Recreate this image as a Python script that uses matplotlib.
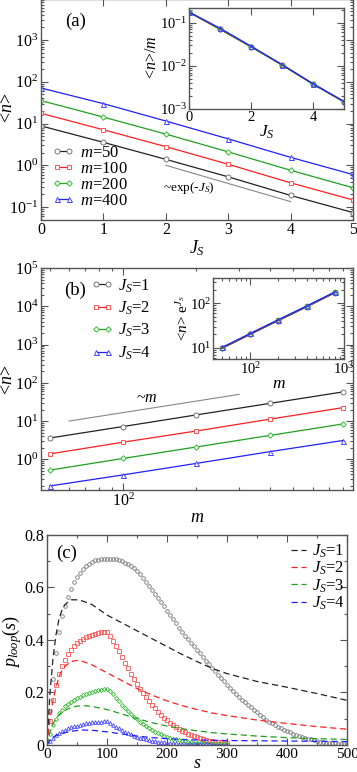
import numpy as np
import matplotlib
matplotlib.use("Agg")
import matplotlib.pyplot as plt
from matplotlib.ticker import LogLocator, NullFormatter, MultipleLocator

plt.rcParams['font.family'] = 'Liberation Serif'
plt.rcParams['mathtext.fontset'] = 'custom'
plt.rcParams['mathtext.rm'] = 'Liberation Serif'
plt.rcParams['mathtext.it'] = 'Liberation Serif:italic'
plt.rcParams['font.size'] = 11.5
plt.rcParams['axes.unicode_minus'] = False

# ---- panel (a): <n> vs J_S for several m
Js = [0, 1, 2, 3, 4, 5]
m_vals = [50, 100, 200, 400]
n_m50 = [8.8, 3.55, 1.39, 0.53, 0.19, 0.074]
n_m100 = [17.6, 7.1, 2.8, 1.06, 0.38, 0.148]
n_m200 = [35.5, 14.3, 5.6, 2.1, 0.76, 0.29]
n_m400 = [71, 30, 11.5, 4.3, 1.55, 0.6]
guide_a_x = [2, 4]
guide_a_y = [1.0, 0.135]

# ---- panel (b): <n> vs m for several J_S
ms = [50, 100, 200, 400, 800]
n_J1 = [3.6, 7.2, 14.5, 29, 58]
n_J2 = [1.38, 2.8, 5.5, 11.2, 22.5]
n_J3 = [0.52, 1.05, 2.1, 4.2, 8.4]
n_J4 = [0.2, 0.39, 0.78, 1.58, 3.1]
# inset (b): <n> e^J_S
ins_J1 = [9.7, 20.0, 41, 83, 172]
ins_J2 = [9.9, 20.4, 42, 85, 176]
ins_J3 = [10.0, 20.7, 42.5, 86, 178]
ins_J4 = [10.2, 21.0, 43, 87, 180]
guide_b_x = [60, 300]
guide_b_y = [10, 50]

# ---- panel (c): p_loop(s)
s_long = np.arange(5, 505, 5)
s_short = np.arange(5, 305, 5)
p_J1 = [.13, .25, .35, .43, .49, .53, .565, .595, .62, .64,
        .657, .671, .682, .691, .698, .703, .706, .708, .709, .710,
        .710, .709, .707, .704, .700, .695, .688, .682, .674, .664,
        .652, .636, .620, .604, .589, .574, .560, .545, .530, .512,
        .496, .480, .464, .447, .431, .417, .403, .390, .376, .363,
        .349, .335, .321, .307, .293, .280, .268, .255, .242, .230,
        .217, .205, .194, .183, .172, .162, .152, .143, .133, .124,
        .115, .106, .097, .089, .082, .075, .069, .063, .058, .053,
        .048, .043, .039, .035, .031, .027, .024, .021, .018, .015,
        .013, .011, .009, .008, .007, .006, .005, .004, .004, .003]
p_J2 = [.09, .17, .23, .27, .30, .325, .345, .362, .376, .388,
        .397, .405, .411, .416, .420, .424, .427, .429, .431, .432,
        .415, .398, .378, .357, .336, .314, .292, .271, .251, .232,
        .214, .197, .181, .166, .152, .139, .127, .115, .104, .094,
        .085, .076, .068, .061, .054, .048, .043, .038, .033, .029,
        .026, .023, .020, .017, .015, .013, .011, .010, .008, .007]
p_J3 = [.04, .075, .10, .12, .135, .147, .157, .165, .172, .178,
        .184, .189, .194, .198, .202, .205, .208, .211, .213, .215,
        .205, .193, .180, .167, .154, .142, .130, .119, .108, .098,
        .089, .080, .072, .064, .057, .051, .045, .040, .035, .031,
        .027, .024, .021, .018, .016, .014, .012, .010, .009, .008,
        .007, .006, .005, .004, .004, .003, .003, .002, .002, .002]
p_J4 = [.015, .027, .037, .045, .052, .058, .063, .067, .071, .074,
        .077, .080, .082, .084, .086, .087, .088, .089, .090, .090,
        .084, .077, .070, .063, .057, .051, .046, .041, .036, .032,
        .028, .025, .022, .019, .017, .015, .013, .011, .010, .009,
        .008, .007, .006, .005, .005, .004, .004, .003, .003, .003,
        .002, .002, .002, .002, .001, .001, .001, .001, .001, .001]
s_line = [0, 5, 10, 15, 20, 25, 30, 40, 50, 60, 75, 100, 125, 150, 175,
          200, 225, 250, 275, 300, 350, 400, 450, 500]
d_J1 = [0, .20, .33, .42, .48, .515, .535, .553, .553, .548, .535, .495,
        .465, .435, .405, .375, .345, .318, .292, .272, .242, .22, .196, .17]
d_J2 = [0, .10, .17, .22, .26, .285, .30, .318, .322, .318, .305, .275,
        .245, .215, .19, .168, .15, .135, .122, .112, .095, .082, .07, .06]
d_J3 = [0, .05, .08, .10, .115, .125, .132, .143, .148, .150, .147, .135,
        .118, .10, .085, .072, .062, .054, .047, .042, .034, .028, .024, .021]
d_J4 = [0, .02, .03, .036, .04, .044, .047, .052, .055, .057, .056, .05,
        .042, .034, .028, .024, .021, .019, .018, .017, .016, .015, .014, .013]

line_cols = ['#222222', '#ff2020', '#20a020', '#2020ff']
mark_cols = ['#777777', '#ff5555', '#33bb33', '#4444ff']
markers = ['o', 's', 'D', '^']
msizes = [3.6, 3.4, 2.8, 3.6]
spine_col = '#555555'

W, H = 357.0, 772.0


def style(ax, logx=False, logy=False):
    for sp in ax.spines.values():
        sp.set_color(spine_col)
        sp.set_linewidth(1.0)
    ax.tick_params(which='both', direction='in', top=True, right=True,
                   color=spine_col, width=0.8, pad=2)
    ax.tick_params(which='major', length=5)
    ax.tick_params(which='minor', length=2.5)
    if logx:
        ax.xaxis.set_minor_locator(LogLocator(base=10, subs=np.arange(2, 10), numticks=20))
        ax.xaxis.set_minor_formatter(NullFormatter())
    if logy:
        ax.yaxis.set_major_locator(LogLocator(base=10, numticks=20))
        ax.yaxis.set_minor_locator(LogLocator(base=10, subs=np.arange(2, 10), numticks=20))
        ax.yaxis.set_minor_formatter(NullFormatter())


def ylab(x, y, txt, size=13):
    fig.text(x / W, 1 - y / H, txt, rotation=90, ha='center', va='center',
             fontsize=size)


fig = plt.figure(figsize=(3.57, 7.72), dpi=100)

# ================= (a)
ax_a = fig.add_axes([0.1148, 0.7155, 0.874, 0.2855])
series_a = [n_m50, n_m100, n_m200, n_m400]
for i, y in enumerate(series_a):
    ax_a.plot(Js, y, color=line_cols[i], lw=0.9, marker=markers[i],
              ms=msizes[i], mfc='white', mec=mark_cols[i], mew=0.7,
              label=r'$m$=%d' % m_vals[i])
ax_a.plot(guide_a_x, guide_a_y, color='#888888', lw=0.8)
ax_a.text(1.96, 0.28, r'~exp(-$J_S$)', fontsize=9.5, va='center')
ax_a.set_yscale('log')
ax_a.set_xlim(0, 5)
ax_a.set_ylim(0.05, 9500)
style(ax_a, logy=True)
ax_a.set_xlabel(r'$J_S$', fontsize=13, labelpad=0)
ylab(8, 108, r'<$n$>')
ax_a.text(0.112, 0.90, '(a)', transform=ax_a.transAxes, fontsize=13.5,
          ha='center', va='center')
ax_a.legend(loc='lower left', bbox_to_anchor=(0.035, 0.05), frameon=False,
            fontsize=12, handlelength=1.3, handletextpad=0.4,
            labelspacing=0.0, borderpad=0, borderaxespad=0, numpoints=2)

# inset (a)
ax_ai = fig.add_axes([0.5294, 0.8588, 0.434, 0.1308])
for i, y in enumerate(series_a):
    ax_ai.plot(Js, np.array(y) / m_vals[i], color=line_cols[i], lw=0.9,
               marker=markers[i], ms=msizes[i], mfc='none', mec=mark_cols[i],
               mew=0.7)
ax_ai.set_yscale('log')
ax_ai.set_xlim(0, 5)
ax_ai.set_ylim(1e-3, 0.22)
style(ax_ai, logy=True)
ax_ai.tick_params(labelsize=10.5, pad=1.5)
ax_ai.set_xlabel(r'$J_S$', fontsize=12.5, labelpad=0)
ylab(152, 57, r'<$n$>/$m$', 11.5)

# ================= (b)
ax_b = fig.add_axes([0.1148, 0.3653, 0.874, 0.2872])
series_b = [n_J1, n_J2, n_J3, n_J4]
for i, y in enumerate(series_b):
    ax_b.plot(ms, y, color=line_cols[i], lw=0.9, marker=markers[i],
              ms=msizes[i], mfc='white', mec=mark_cols[i], mew=0.7,
              label=r'$J_S$=%d' % (i + 1))
ax_b.plot(guide_b_x, guide_b_y, color='#888888', lw=0.8)
ax_b.text(125, 40, r'~$m$', fontsize=11.5, ha='center', va='center')
ax_b.set_xscale('log')
ax_b.set_yscale('log')
ax_b.set_xlim(46, 880)
ax_b.set_ylim(0.157, 1e5)
style(ax_b, logx=True, logy=True)
ax_b.set_xlabel(r'$m$', fontsize=13, labelpad=-1)
ylab(8, 380, r'<$n$>')
ax_b.text(0.109, 0.90, '(b)', transform=ax_b.transAxes, fontsize=13.5,
          ha='center', va='center')
ax_b.legend(loc='upper left', bbox_to_anchor=(0.16, 0.96), frameon=False,
            fontsize=12, handlelength=1.3, handletextpad=0.35,
            labelspacing=0.3, borderpad=0, borderaxespad=0, numpoints=2)

# inset (b)
ax_bi = fig.add_axes([0.5966, 0.535, 0.367, 0.1049])
for i, y in enumerate([ins_J1, ins_J2, ins_J3, ins_J4]):
    ax_bi.plot(ms, y, color=line_cols[i], lw=0.9, marker=markers[i],
               ms=msizes[i], mfc='none', mec=mark_cols[i], mew=0.7)
ax_bi.set_xscale('log')
ax_bi.set_yscale('log')
ax_bi.set_xlim(40, 1000)
ax_bi.set_ylim(5.6, 370)
style(ax_bi, logx=True, logy=True)
ax_bi.tick_params(labelsize=10.5, pad=1.5)
ax_bi.set_xlabel(r'$m$', fontsize=12.5, labelpad=-1)
ylab(183, 318, r'<$n$> e$^{J_S}$', 11)

# ================= (c)
ax_c = fig.add_axes([0.1317, 0.035, 0.8403, 0.272])
marks_c = [(s_long, p_J1), (s_short, p_J2), (s_short, p_J3), (s_short, p_J4)]
msz_c = [2.6, 2.4, 2.1, 2.6]
for i, (sx, py) in enumerate(marks_c):
    ax_c.plot(sx, py, ls='none', marker=markers[i], ms=msz_c[i], mfc='none',
              mec=mark_cols[i], mew=0.6)
for i, dy in enumerate([d_J1, d_J2, d_J3, d_J4]):
    ax_c.plot(s_line, dy, color=line_cols[i], lw=0.9, ls=(0, (5, 3)),
              label=r'$J_S$=%d' % (i + 1))
ax_c.set_xlim(0, 500)
ax_c.set_ylim(0, 0.8)
ax_c.xaxis.set_major_locator(MultipleLocator(100))
ax_c.xaxis.set_minor_locator(MultipleLocator(50))
ax_c.yaxis.set_minor_locator(MultipleLocator(0.1))
ax_c.set_yticks([0, 0.2, 0.4, 0.6, 0.8])
ax_c.set_yticklabels(['0', '0.2', '0.4', '0.6', '0.8'])
style(ax_c)
ax_c.tick_params(axis='x', labelsize=11)
fig.text(197 / W, 1 - 764 / H, r'$s$', ha='center', va='center', fontsize=13)
ylab(12, 641, r'$p_{loop}(s)$')
ax_c.text(0.065, 0.915, '(c)', transform=ax_c.transAxes, fontsize=13.5,
          ha='center', va='center')
ax_c.legend(loc='upper right', bbox_to_anchor=(0.995, 0.965), frameon=False,
            fontsize=12, handlelength=0.9, handletextpad=0.4,
            labelspacing=0.0, borderpad=0, borderaxespad=0)

fig.savefig('out.png', dpi=100)
